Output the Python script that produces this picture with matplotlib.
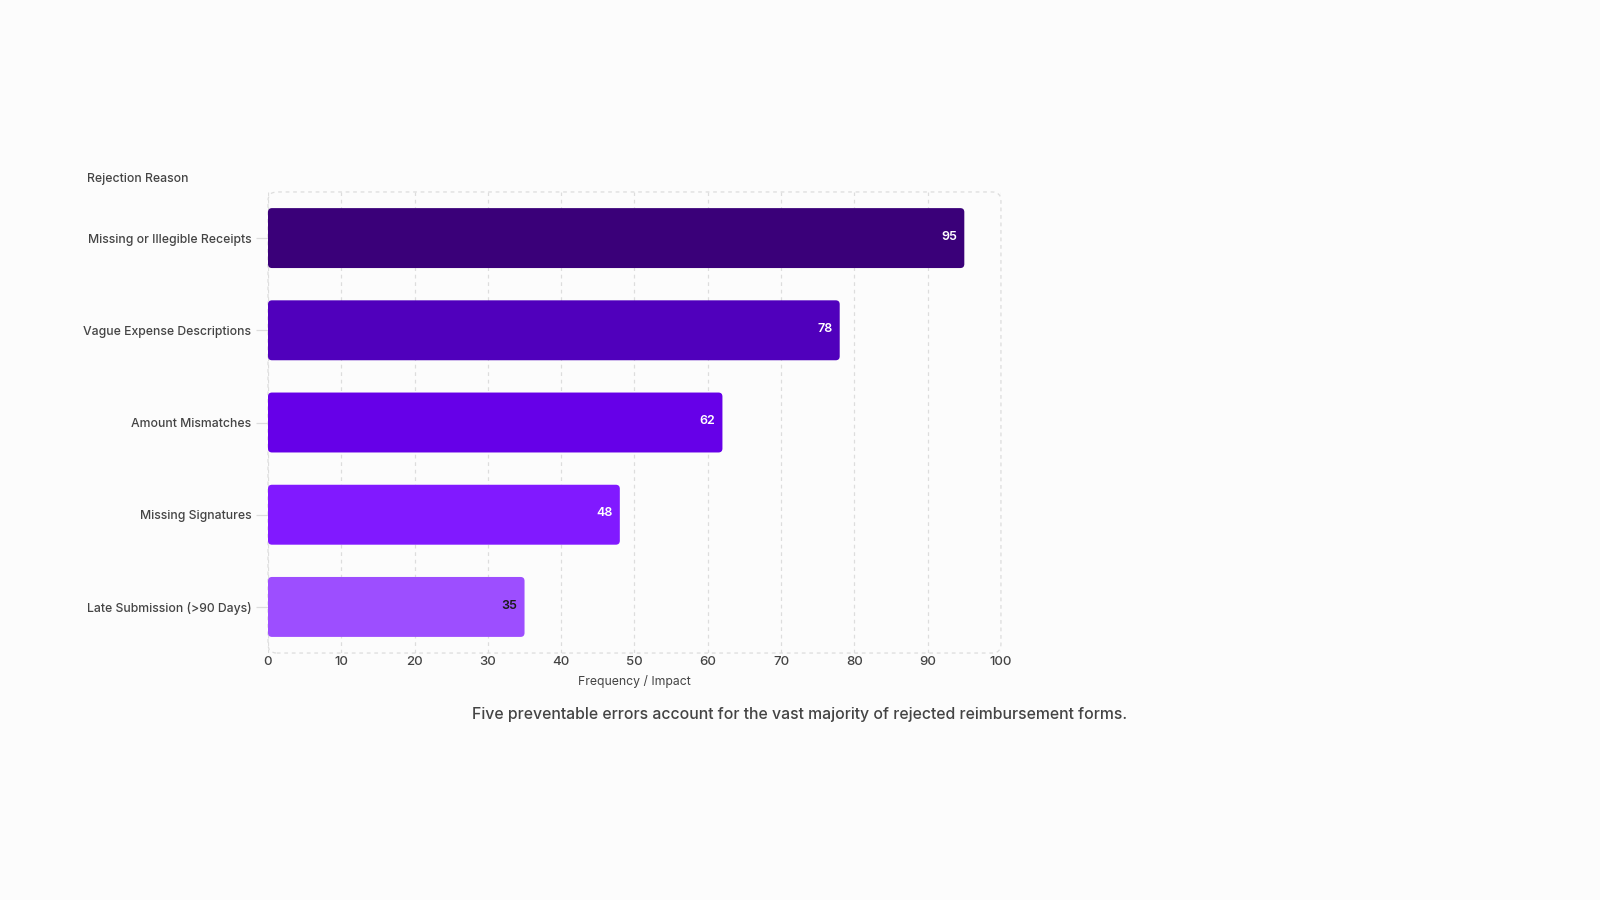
import matplotlib.pyplot as plt
from matplotlib.patches import FancyBboxPatch

plt.rcParams['font.family'] = ['Inter', 'DejaVu Sans']
plt.rcParams['font.weight'] = 'medium'

# Data
reasons = ["Missing or Illegible Receipts", "Vague Expense Descriptions",
           "Amount Mismatches", "Missing Signatures", "Late Submission (>90 Days)"]
values = [95, 78, 62, 48, 35]
colors = ["#3a0079", "#5000bc", "#6600e8", "#8119ff", "#9d4eff"]
label_colors = ["white", "white", "white", "white", "#1a1a1a"]

bg = "#fcfcfc"
fig = plt.figure(figsize=(16, 9), dpi=100, facecolor=bg)
ax = fig.add_axes([0.1675, 0.2744, 0.4581, 0.5123])
ax.set_facecolor(bg)

ypos = list(range(len(reasons)))
bars = ax.barh(ypos, values, height=0.65, color=colors)
ax.set_xlim(0, 100)
ax.set_ylim(len(reasons) - 0.5, -0.5)

# swap plain bars for rounded ones
x_px = 733 / 100.0
y_px = 461 / 5.0
r = 4 / x_px
for b, c in zip(bars, colors):
    b.set_visible(False)
    p = FancyBboxPatch((b.get_x(), b.get_y()), b.get_width(), b.get_height(),
                       boxstyle=f"round,pad=0,rounding_size={r}",
                       mutation_aspect=(4 / y_px) / r,
                       facecolor=c, edgecolor="none", zorder=3)
    ax.add_patch(p)

for y, v, lc in zip(ypos, values, label_colors):
    ax.annotate(str(v), (v, y), xytext=(-5, 1), textcoords="offset points",
                ha="right", va="center", fontsize=9, color=lc,
                fontweight="semibold", zorder=4)

ax.set_xticks(range(0, 101, 10))
ax.set_yticks(ypos)
ax.set_yticklabels(reasons)
for lab in ax.get_yticklabels():
    lab.set_y(lab.get_position()[1])
ax.grid(axis="x", color="#dddddd", linestyle=(0, (3, 3)), linewidth=0.9, zorder=0)
ax.set_axisbelow(True)
for s in ax.spines.values():
    s.set_visible(False)
ax.tick_params(axis="y", length=9, color="#dddddd", width=0.9, pad=3,
               labelsize=8.8, labelcolor="#444444")
ax.tick_params(axis="x", length=0, pad=2, labelsize=9.5, labelcolor="#444444")
for t in ax.yaxis.get_ticklines():
    t.set_linestyle((0, (2, 2)))

# dashed rounded frame around the plot area
frame = FancyBboxPatch((0, 0), 1, 1, transform=ax.transAxes,
                       boxstyle="round,pad=0,rounding_size=0.012",
                       mutation_aspect=733 / 461,
                       facecolor="none", edgecolor="#dddddd",
                       linestyle=(0, (3, 3)), linewidth=0.9, clip_on=False, zorder=1)
ax.add_patch(frame)

ax.set_xlabel("Frequency / Impact", fontsize=8.8, color="#444444", labelpad=5)
fig.text(87 / 1600, 1 - 179 / 900, "Rejection Reason", fontsize=8.8,
         color="#444444", ha="left", va="center")
fig.text(0.5, 1 - 715 / 900,
         "Five preventable errors account for the vast majority of rejected reimbursement forms.",
         fontsize=11.4, color="#444444", ha="center", va="center")

fig.savefig("out.png", dpi=100, facecolor=bg)
